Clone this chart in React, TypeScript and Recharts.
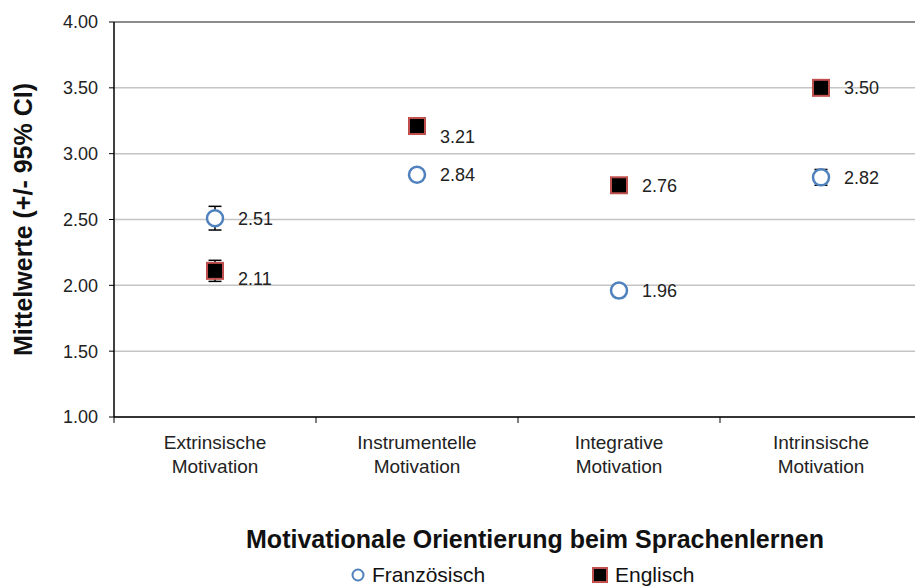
import React from 'react'
import {
  ComposedChart, Line, XAxis, YAxis, CartesianGrid, ErrorBar, LabelList, Legend, ReferenceLine
} from 'recharts'

const categories = [
  'Extrinsische Motivation',
  'Instrumentelle Motivation',
  'Integrative Motivation',
  'Intrinsische Motivation',
]
const franzoesisch = [2.51, 2.84, 1.96, 2.82]
const franzoesischCI = [0.09, 0.03, 0.03, 0.06]
const englisch = [2.11, 3.21, 2.76, 3.5]
const englischCI = [0.08, 0.03, 0.03, 0.03]
const yTicks = [1, 1.5, 2, 2.5, 3, 3.5, 4]

const data = categories.map((cat, i) => ({
  cat,
  fr: franzoesisch[i],
  frErr: franzoesischCI[i],
  en: englisch[i],
  enErr: englischCI[i],
}))

const FONT = '"Liberation Sans", Arial, sans-serif'
const CHART_W = 925
const CHART_H = 587
const M = { top: 22, right: 3, left: 0, bottom: 110 }
const Y_AXIS_W = 114
const X_AXIS_H = 60
const PLOT_W = CHART_W - M.left - M.right - Y_AXIS_W
const BAND = PLOT_W / categories.length

// labels Excel nudged down to clear the error bars
const labelNudge: Record<string, number[]> = { fr: [0, 0, 0, 0], en: [8, 10, 0, 0] }

// eslint-disable-next-line @typescript-eslint/no-explicit-any
const CategoryTick = ({ x, y, payload, index }: any) => {
  const [l1, l2] = String(payload.value).split(' ')
  const half = BAND / 2
  return (
    <g>
      <line x1={x - half} x2={x - half} y1={y} y2={y + 6} stroke="#000" />
      {index === categories.length - 1 && (
        <line x1={x + half} x2={x + half} y1={y} y2={y + 6} stroke="#000" />
      )}
      <text x={x} y={y + 32} textAnchor="middle" fontSize={19} fill="#222" fontFamily={FONT}>{l1}</text>
      <text x={x} y={y + 56} textAnchor="middle" fontSize={19} fill="#222" fontFamily={FONT}>{l2}</text>
    </g>
  )
}

// eslint-disable-next-line @typescript-eslint/no-explicit-any
const CircleDot = ({ cx, cy }: any) => (
  <circle cx={cx} cy={cy} r={8} fill="#fff" stroke="#4f81bd" strokeWidth={2.5} />
)

// eslint-disable-next-line @typescript-eslint/no-explicit-any
const SquareDot = ({ cx, cy }: any) => (
  <rect x={cx - 8} y={cy - 8} width={16} height={16} fill="#000" stroke="#c0504d" strokeWidth={2} />
)

const makeLabel = (key: string) => {
  // eslint-disable-next-line @typescript-eslint/no-explicit-any
  return ({ x, y, value, index }: any) => (
    <text x={x + 23} y={y + (labelNudge[key][index] || 0)} dy={6.5} fontSize={18} fill="#222" fontFamily={FONT}>
      {Number(value).toFixed(2)}
    </text>
  )
}

const LegendContent = () => (
  <div style={{ position: 'relative', width: 915, height: 26, fontFamily: FONT, fontSize: 21, color: '#111', lineHeight: '24px' }}>
    <svg width={16} height={16} style={{ position: 'absolute', left: 350, top: 5 }}>
      <circle cx={8} cy={8} r={5.5} fill="#fff" stroke="#4f81bd" strokeWidth={2} />
    </svg>
    <span style={{ position: 'absolute', left: 372, top: 1 }}>Französisch</span>
    <svg width={16} height={16} style={{ position: 'absolute', left: 592, top: 5 }}>
      <rect x={1} y={1} width={14} height={14} fill="#000" stroke="#c0504d" strokeWidth={2} />
    </svg>
    <span style={{ position: 'absolute', left: 615, top: 1 }}>Englisch</span>
  </div>
)

export default function App() {
  return (
    <div style={{ position: 'absolute', left: 0, top: 0, width: 915, height: 587, overflow: 'hidden', background: '#fff' }}>
      <ComposedChart width={CHART_W} height={CHART_H} data={data} margin={M}>
        <CartesianGrid horizontal vertical={false} stroke="#c4c4c4" strokeWidth={1.5} />
        <ReferenceLine y={4} stroke="#8c8c8c" strokeWidth={2} />
        <XAxis
          dataKey="cat"
          type="category"
          scale="band"
          interval={0}
          height={X_AXIS_H}
          tickLine={false}
          tickSize={0}
          tickMargin={0}
          axisLine={{ stroke: '#000', strokeWidth: 1.5 }}
          tick={<CategoryTick />}
          label={() => (
            <text x={535} y={548} textAnchor="middle" fontSize={25} fontWeight="bold" fill="#111" fontFamily={FONT}>
              Motivationale Orientierung beim Sprachenlernen
            </text>
          )}
        />
        <YAxis
          width={Y_AXIS_W}
          domain={[1, 4]}
          ticks={yTicks}
          interval={0}
          tickFormatter={(v: number) => v.toFixed(2)}
          tick={{ fontSize: 18, fill: '#222', fontFamily: FONT }}
          tickSize={5}
          tickMargin={11}
          tickLine={{ stroke: '#000' }}
          axisLine={{ stroke: '#000', strokeWidth: 1.5 }}
          // eslint-disable-next-line @typescript-eslint/no-explicit-any
          label={({ viewBox }: any) => {
            const cy = viewBox.y + viewBox.height / 2
            return (
              <text x={24} y={cy} transform={`rotate(-90 24 ${cy})`} textAnchor="middle" dy={8}
                fontSize={25} fontWeight="bold" fill="#111" fontFamily={FONT}>
                Mittelwerte (+/- 95% CI)
              </text>
            )
          }}
        />
        <Legend
          layout="horizontal"
          verticalAlign="middle"
          align="center"
          content={<LegendContent />}
          wrapperStyle={{ left: 0, top: 562, width: 915 }}
        />
        <Line dataKey="fr" name="Französisch" stroke="none" dot={<CircleDot />} activeDot={false} isAnimationActive={false}>
          <ErrorBar dataKey="frErr" width={6.5} stroke="#000" strokeWidth={1.5} direction="y" />
          <LabelList dataKey="fr" content={makeLabel('fr')} />
        </Line>
        <Line dataKey="en" name="Englisch" stroke="none" dot={<SquareDot />} activeDot={false} isAnimationActive={false}>
          <ErrorBar dataKey="enErr" width={6.5} stroke="#000" strokeWidth={1.5} direction="y" />
          <LabelList dataKey="en" content={makeLabel('en')} />
        </Line>
      </ComposedChart>
    </div>
  )
}
